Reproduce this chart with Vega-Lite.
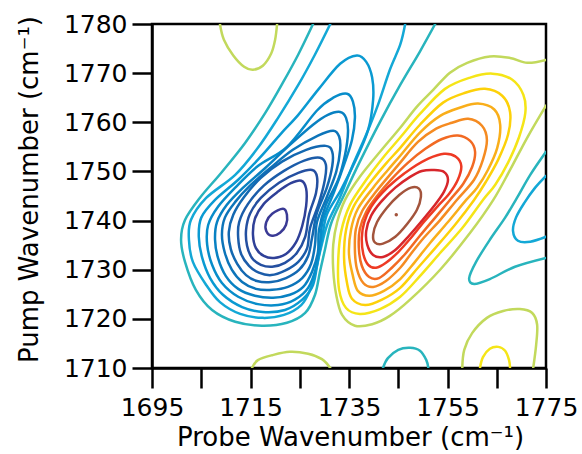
{
  "$schema": "https://vega.github.io/schema/vega-lite/v6.json",
  "width": 394,
  "height": 344,
  "autosize": {"type": "none"},
  "padding": {"left": 152, "top": 24, "right": 36, "bottom": 86},
  "background": "white",
  "config": {
    "view": {"stroke": "black", "strokeWidth": 2.5},
    "font": "DejaVu Sans",
    "axis": {
      "grid": false,
      "domainColor": "black",
      "domainWidth": 2.5,
      "tickColor": "black",
      "tickWidth": 2.5,
      "tickSize": 20,
      "labelFont": "DejaVu Sans",
      "labelFontSize": 25,
      "labelColor": "black",
      "labelOverlap": false,
      "labelFlush": false,
      "labelBound": false,
      "titleFont": "DejaVu Sans",
      "titleFontSize": 26,
      "titleFontWeight": "normal",
      "titleColor": "black"
    }
  },
  "datasets": {
    "closed": [
      {"c":"n3","l":-3,"x":1736.6,"y":1773.6},{"c":"n3","l":-3,"x":1738.5,"y":1772.3},{"c":"n3","l":-3,"x":1739.7,"y":1769.1},{"c":"n3","l":-3,"x":1739.9,"y":1764.6},{"c":"n3","l":-3,"x":1738.9,"y":1758.5},{"c":"n3","l":-3,"x":1736.4,"y":1752.4},{"c":"n3","l":-3,"x":1733.4,"y":1746.3},{"c":"n3","l":-3,"x":1730.5,"y":1741.2},{"c":"n3","l":-3,"x":1729.5,"y":1736.1},{"c":"n3","l":-3,"x":1728.7,"y":1732.0},{"c":"n3","l":-3,"x":1727.7,"y":1726.9},{"c":"n3","l":-3,"x":1725.5,"y":1723.9},{"c":"n3","l":-3,"x":1722.0,"y":1721.8},{"c":"n3","l":-3,"x":1717.5,"y":1721.4},{"c":"n3","l":-3,"x":1713.3,"y":1722.4},{"c":"n3","l":-3,"x":1709.4,"y":1724.9},{"c":"n3","l":-3,"x":1706.8,"y":1728.3},{"c":"n3","l":-3,"x":1705.2,"y":1732.4},{"c":"n3","l":-3,"x":1704.5,"y":1736.7},{"c":"n3","l":-3,"x":1705.0,"y":1740.6},{"c":"n3","l":-3,"x":1707.8,"y":1744.2},{"c":"n3","l":-3,"x":1712.5,"y":1748.3},{"c":"n3","l":-3,"x":1716.9,"y":1752.8},{"c":"n3","l":-3,"x":1721.2,"y":1757.7},{"c":"n3","l":-3,"x":1724.7,"y":1761.5},{"c":"n3","l":-3,"x":1728.7,"y":1766.6},{"c":"n3","l":-3,"x":1733.2,"y":1771.9},
      {"c":"n4","l":-4,"x":1734.6,"y":1765.8},{"c":"n4","l":-4,"x":1735.8,"y":1764.2},{"c":"n4","l":-4,"x":1736.2,"y":1760.9},{"c":"n4","l":-4,"x":1735.6,"y":1756.4},{"c":"n4","l":-4,"x":1734.0,"y":1751.4},{"c":"n4","l":-4,"x":1732.0,"y":1745.9},{"c":"n4","l":-4,"x":1729.7,"y":1740.1},{"c":"n4","l":-4,"x":1729.1,"y":1735.1},{"c":"n4","l":-4,"x":1728.3,"y":1730.4},{"c":"n4","l":-4,"x":1726.7,"y":1726.3},{"c":"n4","l":-4,"x":1724.0,"y":1723.9},{"c":"n4","l":-4,"x":1720.6,"y":1722.8},{"c":"n4","l":-4,"x":1716.5,"y":1723.0},{"c":"n4","l":-4,"x":1712.5,"y":1724.5},{"c":"n4","l":-4,"x":1709.2,"y":1727.3},{"c":"n4","l":-4,"x":1707.2,"y":1731.0},{"c":"n4","l":-4,"x":1706.2,"y":1735.1},{"c":"n4","l":-4,"x":1706.4,"y":1739.1},{"c":"n4","l":-4,"x":1708.4,"y":1742.8},{"c":"n4","l":-4,"x":1711.9,"y":1746.7},{"c":"n4","l":-4,"x":1716.5,"y":1751.1},{"c":"n4","l":-4,"x":1722.4,"y":1755.0},{"c":"n4","l":-4,"x":1728.5,"y":1762.4},{"c":"n4","l":-4,"x":1731.8,"y":1765.0},
      {"c":"n5","l":-5,"x":1733.2,"y":1762.1},{"c":"n5","l":-5,"x":1734.4,"y":1760.9},{"c":"n5","l":-5,"x":1734.8,"y":1758.1},{"c":"n5","l":-5,"x":1734.2,"y":1753.4},{"c":"n5","l":-5,"x":1732.8,"y":1748.3},{"c":"n5","l":-5,"x":1730.3,"y":1743.2},{"c":"n5","l":-5,"x":1728.9,"y":1738.1},{"c":"n5","l":-5,"x":1728.7,"y":1733.6},{"c":"n5","l":-5,"x":1727.5,"y":1729.6},{"c":"n5","l":-5,"x":1725.7,"y":1726.5},{"c":"n5","l":-5,"x":1723.0,"y":1724.9},{"c":"n5","l":-5,"x":1719.6,"y":1724.3},{"c":"n5","l":-5,"x":1715.9,"y":1724.7},{"c":"n5","l":-5,"x":1712.5,"y":1726.1},{"c":"n5","l":-5,"x":1710.0,"y":1728.7},{"c":"n5","l":-5,"x":1708.4,"y":1732.4},{"c":"n5","l":-5,"x":1707.8,"y":1736.1},{"c":"n5","l":-5,"x":1708.2,"y":1739.7},{"c":"n5","l":-5,"x":1710.2,"y":1743.2},{"c":"n5","l":-5,"x":1713.5,"y":1746.7},{"c":"n5","l":-5,"x":1718.0,"y":1750.7},{"c":"n5","l":-5,"x":1723.0,"y":1755.4},{"c":"n5","l":-5,"x":1727.7,"y":1759.5},{"c":"n5","l":-5,"x":1730.7,"y":1761.5},
      {"c":"n6","l":-6,"x":1731.8,"y":1758.3},{"c":"n6","l":-6,"x":1733.0,"y":1757.1},{"c":"n6","l":-6,"x":1733.2,"y":1754.4},{"c":"n6","l":-6,"x":1732.4,"y":1749.9},{"c":"n6","l":-6,"x":1730.5,"y":1744.8},{"c":"n6","l":-6,"x":1728.5,"y":1739.7},{"c":"n6","l":-6,"x":1728.1,"y":1735.1},{"c":"n6","l":-6,"x":1727.3,"y":1731.2},{"c":"n6","l":-6,"x":1725.5,"y":1728.3},{"c":"n6","l":-6,"x":1722.6,"y":1726.5},{"c":"n6","l":-6,"x":1719.4,"y":1725.9},{"c":"n6","l":-6,"x":1716.1,"y":1726.1},{"c":"n6","l":-6,"x":1713.3,"y":1727.5},{"c":"n6","l":-6,"x":1711.2,"y":1730.0},{"c":"n6","l":-6,"x":1709.8,"y":1733.4},{"c":"n6","l":-6,"x":1709.2,"y":1737.1},{"c":"n6","l":-6,"x":1709.8,"y":1740.6},{"c":"n6","l":-6,"x":1711.9,"y":1743.8},{"c":"n6","l":-6,"x":1714.9,"y":1747.1},{"c":"n6","l":-6,"x":1719.0,"y":1750.7},{"c":"n6","l":-6,"x":1723.6,"y":1754.4},{"c":"n6","l":-6,"x":1728.7,"y":1757.3},
      {"c":"n7","l":-7,"x":1730.3,"y":1755.2},{"c":"n7","l":-7,"x":1731.6,"y":1754.0},{"c":"n7","l":-7,"x":1731.6,"y":1751.1},{"c":"n7","l":-7,"x":1730.5,"y":1746.7},{"c":"n7","l":-7,"x":1728.5,"y":1741.6},{"c":"n7","l":-7,"x":1727.5,"y":1736.5},{"c":"n7","l":-7,"x":1726.7,"y":1732.8},{"c":"n7","l":-7,"x":1724.9,"y":1730.0},{"c":"n7","l":-7,"x":1722.2,"y":1728.3},{"c":"n7","l":-7,"x":1719.2,"y":1727.5},{"c":"n7","l":-7,"x":1716.3,"y":1727.7},{"c":"n7","l":-7,"x":1714.1,"y":1728.9},{"c":"n7","l":-7,"x":1712.3,"y":1731.2},{"c":"n7","l":-7,"x":1711.0,"y":1734.2},{"c":"n7","l":-7,"x":1710.6,"y":1737.7},{"c":"n7","l":-7,"x":1711.5,"y":1741.2},{"c":"n7","l":-7,"x":1713.7,"y":1744.8},{"c":"n7","l":-7,"x":1717.1,"y":1748.7},{"c":"n7","l":-7,"x":1721.4,"y":1752.0},{"c":"n7","l":-7,"x":1726.3,"y":1754.4},
      {"c":"n8","l":-8,"x":1729.1,"y":1752.8},{"c":"n8","l":-8,"x":1730.3,"y":1751.4},{"c":"n8","l":-8,"x":1730.1,"y":1748.3},{"c":"n8","l":-8,"x":1728.9,"y":1743.6},{"c":"n8","l":-8,"x":1727.1,"y":1738.5},{"c":"n8","l":-8,"x":1726.5,"y":1734.4},{"c":"n8","l":-8,"x":1724.7,"y":1731.6},{"c":"n8","l":-8,"x":1722.0,"y":1729.8},{"c":"n8","l":-8,"x":1719.2,"y":1728.9},{"c":"n8","l":-8,"x":1716.7,"y":1729.4},{"c":"n8","l":-8,"x":1714.7,"y":1730.8},{"c":"n8","l":-8,"x":1713.1,"y":1733.2},{"c":"n8","l":-8,"x":1712.5,"y":1736.5},{"c":"n8","l":-8,"x":1712.7,"y":1739.7},{"c":"n8","l":-8,"x":1714.5,"y":1743.4},{"c":"n8","l":-8,"x":1717.7,"y":1747.1},{"c":"n8","l":-8,"x":1721.8,"y":1750.1},{"c":"n8","l":-8,"x":1725.9,"y":1752.2},
      {"c":"n9","l":-9,"x":1727.5,"y":1750.3},{"c":"n9","l":-9,"x":1728.5,"y":1748.9},{"c":"n9","l":-9,"x":1728.3,"y":1745.6},{"c":"n9","l":-9,"x":1726.9,"y":1741.2},{"c":"n9","l":-9,"x":1726.1,"y":1736.7},{"c":"n9","l":-9,"x":1724.4,"y":1733.4},{"c":"n9","l":-9,"x":1722.0,"y":1731.4},{"c":"n9","l":-9,"x":1719.4,"y":1730.6},{"c":"n9","l":-9,"x":1717.1,"y":1731.0},{"c":"n9","l":-9,"x":1715.3,"y":1732.4},{"c":"n9","l":-9,"x":1714.3,"y":1734.9},{"c":"n9","l":-9,"x":1714.1,"y":1738.1},{"c":"n9","l":-9,"x":1714.9,"y":1741.4},{"c":"n9","l":-9,"x":1717.1,"y":1744.6},{"c":"n9","l":-9,"x":1720.8,"y":1747.7},{"c":"n9","l":-9,"x":1724.7,"y":1749.7},
      {"c":"n10","l":-10,"x":1725.3,"y":1748.1},{"c":"n10","l":-10,"x":1726.3,"y":1746.5},{"c":"n10","l":-10,"x":1726.3,"y":1743.0},{"c":"n10","l":-10,"x":1725.5,"y":1738.9},{"c":"n10","l":-10,"x":1724.2,"y":1735.5},{"c":"n10","l":-10,"x":1722.2,"y":1733.2},{"c":"n10","l":-10,"x":1719.8,"y":1732.4},{"c":"n10","l":-10,"x":1717.7,"y":1732.8},{"c":"n10","l":-10,"x":1716.1,"y":1734.4},{"c":"n10","l":-10,"x":1715.5,"y":1737.1},{"c":"n10","l":-10,"x":1715.9,"y":1740.4},{"c":"n10","l":-10,"x":1717.7,"y":1743.4},{"c":"n10","l":-10,"x":1720.6,"y":1745.9},{"c":"n10","l":-10,"x":1723.2,"y":1747.6},
      {"c":"n11","l":-11,"x":1721.6,"y":1742.4},{"c":"n11","l":-11,"x":1722.4,"y":1741.2},{"c":"n11","l":-11,"x":1722.2,"y":1739.1},{"c":"n11","l":-11,"x":1721.0,"y":1737.5},{"c":"n11","l":-11,"x":1719.4,"y":1736.9},{"c":"n11","l":-11,"x":1718.2,"y":1737.9},{"c":"n11","l":-11,"x":1718.2,"y":1739.7},{"c":"n11","l":-11,"x":1719.4,"y":1741.4},
      {"c":"p2","l":2,"x":1759.6,"y":1769.1},{"c":"p2","l":2,"x":1764.1,"y":1769.9},{"c":"p2","l":2,"x":1768.1,"y":1768.7},{"c":"p2","l":2,"x":1770.4,"y":1765.6},{"c":"p2","l":2,"x":1770.8,"y":1761.9},{"c":"p2","l":2,"x":1769.5,"y":1756.9},{"c":"p2","l":2,"x":1767.3,"y":1751.8},{"c":"p2","l":2,"x":1764.7,"y":1747.3},{"c":"p2","l":2,"x":1762.2,"y":1744.2},{"c":"p2","l":2,"x":1758.0,"y":1738.5},{"c":"p2","l":2,"x":1753.5,"y":1733.4},{"c":"p2","l":2,"x":1749.4,"y":1728.7},{"c":"p2","l":2,"x":1745.4,"y":1724.5},{"c":"p2","l":2,"x":1741.3,"y":1722.0},{"c":"p2","l":2,"x":1737.2,"y":1721.0},{"c":"p2","l":2,"x":1734.4,"y":1722.2},{"c":"p2","l":2,"x":1733.0,"y":1725.9},{"c":"p2","l":2,"x":1732.8,"y":1731.6},{"c":"p2","l":2,"x":1733.4,"y":1737.7},{"c":"p2","l":2,"x":1735.2,"y":1743.2},{"c":"p2","l":2,"x":1738.5,"y":1748.3},{"c":"p2","l":2,"x":1741.9,"y":1752.8},{"c":"p2","l":2,"x":1745.4,"y":1756.9},{"c":"p2","l":2,"x":1749.4,"y":1761.7},{"c":"p2","l":2,"x":1754.5,"y":1766.8},
      {"c":"p3","l":3,"x":1758.6,"y":1766.0},{"c":"p3","l":3,"x":1762.6,"y":1766.8},{"c":"p3","l":3,"x":1766.1,"y":1765.4},{"c":"p3","l":3,"x":1767.7,"y":1762.1},{"c":"p3","l":3,"x":1767.3,"y":1757.5},{"c":"p3","l":3,"x":1765.3,"y":1752.4},{"c":"p3","l":3,"x":1762.8,"y":1747.9},{"c":"p3","l":3,"x":1760.4,"y":1744.2},{"c":"p3","l":3,"x":1756.5,"y":1739.1},{"c":"p3","l":3,"x":1752.5,"y":1734.4},{"c":"p3","l":3,"x":1749.0,"y":1730.4},{"c":"p3","l":3,"x":1745.4,"y":1726.3},{"c":"p3","l":3,"x":1741.7,"y":1723.9},{"c":"p3","l":3,"x":1738.3,"y":1722.8},{"c":"p3","l":3,"x":1735.6,"y":1724.1},{"c":"p3","l":3,"x":1734.6,"y":1727.3},{"c":"p3","l":3,"x":1734.0,"y":1732.4},{"c":"p3","l":3,"x":1734.4,"y":1738.1},{"c":"p3","l":3,"x":1736.0,"y":1743.0},{"c":"p3","l":3,"x":1739.3,"y":1747.7},{"c":"p3","l":3,"x":1742.5,"y":1751.6},{"c":"p3","l":3,"x":1745.4,"y":1754.8},{"c":"p3","l":3,"x":1749.4,"y":1759.5},{"c":"p3","l":3,"x":1754.1,"y":1764.0},
      {"c":"p4","l":4,"x":1757.6,"y":1763.0},{"c":"p4","l":4,"x":1761.2,"y":1763.8},{"c":"p4","l":4,"x":1764.5,"y":1762.6},{"c":"p4","l":4,"x":1765.7,"y":1759.5},{"c":"p4","l":4,"x":1765.1,"y":1754.8},{"c":"p4","l":4,"x":1763.2,"y":1750.3},{"c":"p4","l":4,"x":1761.0,"y":1746.7},{"c":"p4","l":4,"x":1758.8,"y":1744.2},{"c":"p4","l":4,"x":1755.1,"y":1739.7},{"c":"p4","l":4,"x":1751.5,"y":1735.5},{"c":"p4","l":4,"x":1748.4,"y":1731.6},{"c":"p4","l":4,"x":1745.4,"y":1728.1},{"c":"p4","l":4,"x":1742.1,"y":1725.7},{"c":"p4","l":4,"x":1739.1,"y":1724.7},{"c":"p4","l":4,"x":1736.8,"y":1725.7},{"c":"p4","l":4,"x":1735.8,"y":1728.7},{"c":"p4","l":4,"x":1735.0,"y":1733.2},{"c":"p4","l":4,"x":1735.4,"y":1738.1},{"c":"p4","l":4,"x":1736.8,"y":1742.4},{"c":"p4","l":4,"x":1739.9,"y":1746.7},{"c":"p4","l":4,"x":1742.9,"y":1750.3},{"c":"p4","l":4,"x":1745.4,"y":1753.2},{"c":"p4","l":4,"x":1749.4,"y":1757.9},{"c":"p4","l":4,"x":1753.5,"y":1761.3},
      {"c":"p5","l":5,"x":1755.9,"y":1759.9},{"c":"p5","l":5,"x":1759.2,"y":1760.7},{"c":"p5","l":5,"x":1762.0,"y":1759.3},{"c":"p5","l":5,"x":1763.0,"y":1756.4},{"c":"p5","l":5,"x":1762.2,"y":1752.4},{"c":"p5","l":5,"x":1760.4,"y":1748.3},{"c":"p5","l":5,"x":1756.9,"y":1744.2},{"c":"p5","l":5,"x":1753.5,"y":1740.1},{"c":"p5","l":5,"x":1750.2,"y":1736.5},{"c":"p5","l":5,"x":1747.4,"y":1733.0},{"c":"p5","l":5,"x":1745.4,"y":1730.4},{"c":"p5","l":5,"x":1742.5,"y":1727.7},{"c":"p5","l":5,"x":1739.9,"y":1726.5},{"c":"p5","l":5,"x":1737.9,"y":1727.3},{"c":"p5","l":5,"x":1736.6,"y":1730.2},{"c":"p5","l":5,"x":1736.2,"y":1734.0},{"c":"p5","l":5,"x":1736.4,"y":1738.3},{"c":"p5","l":5,"x":1737.7,"y":1742.0},{"c":"p5","l":5,"x":1740.5,"y":1745.9},{"c":"p5","l":5,"x":1743.3,"y":1749.3},{"c":"p5","l":5,"x":1745.4,"y":1751.8},{"c":"p5","l":5,"x":1749.0,"y":1756.0},{"c":"p5","l":5,"x":1752.7,"y":1758.7},
      {"c":"p6","l":6,"x":1757.1,"y":1757.3},{"c":"p6","l":6,"x":1759.6,"y":1756.2},{"c":"p6","l":6,"x":1760.6,"y":1754.0},{"c":"p6","l":6,"x":1760.0,"y":1750.9},{"c":"p6","l":6,"x":1758.2,"y":1747.5},{"c":"p6","l":6,"x":1755.5,"y":1744.2},{"c":"p6","l":6,"x":1752.5,"y":1740.6},{"c":"p6","l":6,"x":1749.4,"y":1736.9},{"c":"p6","l":6,"x":1746.4,"y":1733.2},{"c":"p6","l":6,"x":1743.7,"y":1730.4},{"c":"p6","l":6,"x":1741.1,"y":1728.3},{"c":"p6","l":6,"x":1739.1,"y":1728.5},{"c":"p6","l":6,"x":1737.6,"y":1730.8},{"c":"p6","l":6,"x":1737.0,"y":1734.4},{"c":"p6","l":6,"x":1737.2,"y":1738.3},{"c":"p6","l":6,"x":1738.5,"y":1741.8},{"c":"p6","l":6,"x":1740.7,"y":1745.0},{"c":"p6","l":6,"x":1743.5,"y":1748.3},{"c":"p6","l":6,"x":1747.0,"y":1751.8},{"c":"p6","l":6,"x":1750.5,"y":1754.6},{"c":"p6","l":6,"x":1753.9,"y":1756.6},
      {"c":"p7","l":7,"x":1754.3,"y":1753.6},{"c":"p7","l":7,"x":1756.7,"y":1753.0},{"c":"p7","l":7,"x":1757.8,"y":1751.1},{"c":"p7","l":7,"x":1757.1,"y":1748.3},{"c":"p7","l":7,"x":1755.3,"y":1745.4},{"c":"p7","l":7,"x":1752.9,"y":1742.8},{"c":"p7","l":7,"x":1750.2,"y":1739.7},{"c":"p7","l":7,"x":1747.6,"y":1736.5},{"c":"p7","l":7,"x":1745.0,"y":1733.6},{"c":"p7","l":7,"x":1742.5,"y":1731.4},{"c":"p7","l":7,"x":1740.5,"y":1730.4},{"c":"p7","l":7,"x":1738.9,"y":1731.0},{"c":"p7","l":7,"x":1737.9,"y":1733.2},{"c":"p7","l":7,"x":1737.6,"y":1736.5},{"c":"p7","l":7,"x":1738.1,"y":1739.7},{"c":"p7","l":7,"x":1739.5,"y":1742.8},{"c":"p7","l":7,"x":1741.7,"y":1745.6},{"c":"p7","l":7,"x":1744.6,"y":1748.3},{"c":"p7","l":7,"x":1747.8,"y":1750.7},{"c":"p7","l":7,"x":1751.1,"y":1752.6},
      {"c":"p8","l":8,"x":1752.3,"y":1750.3},{"c":"p8","l":8,"x":1754.3,"y":1749.9},{"c":"p8","l":8,"x":1755.1,"y":1748.3},{"c":"p8","l":8,"x":1754.3,"y":1745.9},{"c":"p8","l":8,"x":1752.3,"y":1743.0},{"c":"p8","l":8,"x":1749.6,"y":1739.7},{"c":"p8","l":8,"x":1747.0,"y":1736.7},{"c":"p8","l":8,"x":1744.4,"y":1734.0},{"c":"p8","l":8,"x":1741.9,"y":1732.6},{"c":"p8","l":8,"x":1739.9,"y":1733.0},{"c":"p8","l":8,"x":1738.7,"y":1735.1},{"c":"p8","l":8,"x":1738.5,"y":1737.9},{"c":"p8","l":8,"x":1739.5,"y":1741.0},{"c":"p8","l":8,"x":1741.5,"y":1743.8},{"c":"p8","l":8,"x":1744.4,"y":1746.7},{"c":"p8","l":8,"x":1747.4,"y":1748.9},{"c":"p8","l":8,"x":1749.8,"y":1750.1},
      {"c":"p9","l":9,"x":1749.2,"y":1746.5},{"c":"p9","l":9,"x":1749.6,"y":1744.8},{"c":"p9","l":9,"x":1748.8,"y":1742.2},{"c":"p9","l":9,"x":1746.8,"y":1739.3},{"c":"p9","l":9,"x":1744.4,"y":1736.7},{"c":"p9","l":9,"x":1741.9,"y":1735.3},{"c":"p9","l":9,"x":1740.3,"y":1735.5},{"c":"p9","l":9,"x":1739.9,"y":1737.1},{"c":"p9","l":9,"x":1740.7,"y":1739.7},{"c":"p9","l":9,"x":1742.7,"y":1742.6},{"c":"p9","l":9,"x":1745.2,"y":1745.2},{"c":"p9","l":9,"x":1747.6,"y":1746.7},
      {"c":"p10","l":10,"x":1744.5,"y":1741.2},{"c":"p10","l":10,"x":1744.6,"y":1741.3},{"c":"p10","l":10,"x":1744.7,"y":1741.2},{"c":"p10","l":10,"x":1744.6,"y":1741.1}
    ],
    "open": [
      {"c":"n1","l":-1,"x":1727.7,"y":1780.0},{"c":"n1","l":-1,"x":1724.7,"y":1773.8},{"c":"n1","l":-1,"x":1721.6,"y":1768.1},{"c":"n1","l":-1,"x":1718.0,"y":1761.9},{"c":"n1","l":-1,"x":1713.9,"y":1755.8},{"c":"n1","l":-1,"x":1709.2,"y":1749.9},{"c":"n1","l":-1,"x":1704.7,"y":1744.6},{"c":"n1","l":-1,"x":1701.7,"y":1740.1},{"c":"n1","l":-1,"x":1700.9,"y":1736.1},{"c":"n1","l":-1,"x":1701.7,"y":1731.6},{"c":"n1","l":-1,"x":1703.9,"y":1725.9},{"c":"n1","l":-1,"x":1707.2,"y":1721.8},{"c":"n1","l":-1,"x":1711.9,"y":1719.4},{"c":"n1","l":-1,"x":1717.3,"y":1718.6},{"c":"n1","l":-1,"x":1722.4,"y":1719.2},{"c":"n1","l":-1,"x":1726.1,"y":1721.2},{"c":"n1","l":-1,"x":1728.1,"y":1724.9},{"c":"n1","l":-1,"x":1729.1,"y":1729.6},{"c":"n1","l":-1,"x":1730.1,"y":1734.0},{"c":"n1","l":-1,"x":1731.4,"y":1739.5},{"c":"n1","l":-1,"x":1734.0,"y":1745.2},{"c":"n1","l":-1,"x":1737.2,"y":1752.0},{"c":"n1","l":-1,"x":1741.3,"y":1760.1},{"c":"n1","l":-1,"x":1745.4,"y":1767.6},{"c":"n1","l":-1,"x":1749.4,"y":1774.4},{"c":"n1","l":-1,"x":1752.5,"y":1780.0},
      {"c":"n2","l":-2,"x":1731.2,"y":1780.0},{"c":"n2","l":-2,"x":1728.1,"y":1773.8},{"c":"n2","l":-2,"x":1724.7,"y":1767.6},{"c":"n2","l":-2,"x":1720.6,"y":1760.9},{"c":"n2","l":-2,"x":1716.5,"y":1754.8},{"c":"n2","l":-2,"x":1711.9,"y":1749.3},{"c":"n2","l":-2,"x":1706.0,"y":1744.6},{"c":"n2","l":-2,"x":1702.9,"y":1740.1},{"c":"n2","l":-2,"x":1702.5,"y":1736.1},{"c":"n2","l":-2,"x":1703.3,"y":1731.6},{"c":"n2","l":-2,"x":1706.0,"y":1726.9},{"c":"n2","l":-2,"x":1708.8,"y":1723.4},{"c":"n2","l":-2,"x":1712.9,"y":1721.0},{"c":"n2","l":-2,"x":1717.5,"y":1720.2},{"c":"n2","l":-2,"x":1721.8,"y":1720.8},{"c":"n2","l":-2,"x":1725.3,"y":1722.8},{"c":"n2","l":-2,"x":1727.1,"y":1725.9},{"c":"n2","l":-2,"x":1728.3,"y":1730.0},{"c":"n2","l":-2,"x":1729.3,"y":1734.4},{"c":"n2","l":-2,"x":1730.7,"y":1739.5},{"c":"n2","l":-2,"x":1733.2,"y":1744.8},{"c":"n2","l":-2,"x":1735.6,"y":1750.9},{"c":"n2","l":-2,"x":1738.5,"y":1757.5},{"c":"n2","l":-2,"x":1740.9,"y":1763.6},{"c":"n2","l":-2,"x":1743.3,"y":1770.7},{"c":"n2","l":-2,"x":1745.4,"y":1775.8},{"c":"n2","l":-2,"x":1746.4,"y":1780.0},
      {"c":"p1","l":1,"x":1775.0,"y":1772.7},{"c":"p1","l":1,"x":1771.2,"y":1772.1},{"c":"p1","l":1,"x":1767.7,"y":1773.1},{"c":"p1","l":1,"x":1763.6,"y":1773.4},{"c":"p1","l":1,"x":1759.0,"y":1772.1},{"c":"p1","l":1,"x":1755.5,"y":1770.1},{"c":"p1","l":1,"x":1752.1,"y":1766.6},{"c":"p1","l":1,"x":1748.8,"y":1763.2},{"c":"p1","l":1,"x":1745.4,"y":1758.9},{"c":"p1","l":1,"x":1741.3,"y":1754.0},{"c":"p1","l":1,"x":1737.2,"y":1748.9},{"c":"p1","l":1,"x":1734.2,"y":1744.2},{"c":"p1","l":1,"x":1732.6,"y":1739.7},{"c":"p1","l":1,"x":1731.8,"y":1735.1},{"c":"p1","l":1,"x":1731.8,"y":1730.0},{"c":"p1","l":1,"x":1732.4,"y":1724.9},{"c":"p1","l":1,"x":1733.6,"y":1720.8},{"c":"p1","l":1,"x":1736.2,"y":1718.6},{"c":"p1","l":1,"x":1739.7,"y":1718.9},{"c":"p1","l":1,"x":1743.3,"y":1720.6},{"c":"p1","l":1,"x":1747.4,"y":1723.9},{"c":"p1","l":1,"x":1753.5,"y":1730.0},{"c":"p1","l":1,"x":1759.6,"y":1737.5},{"c":"p1","l":1,"x":1764.3,"y":1744.2},{"c":"p1","l":1,"x":1767.7,"y":1750.3},{"c":"p1","l":1,"x":1771.2,"y":1756.9},{"c":"p1","l":1,"x":1775.0,"y":1763.4},
      {"c":"p1b","l":1,"x":1708.8,"y":1780.0},{"c":"p1b","l":1,"x":1709.6,"y":1776.8},{"c":"p1b","l":1,"x":1711.5,"y":1773.6},{"c":"p1b","l":1,"x":1713.7,"y":1771.3},{"c":"p1b","l":1,"x":1715.5,"y":1770.7},{"c":"p1b","l":1,"x":1717.5,"y":1771.5},{"c":"p1b","l":1,"x":1719.2,"y":1774.0},{"c":"p1b","l":1,"x":1720.0,"y":1776.8},{"c":"p1b","l":1,"x":1720.4,"y":1780.0},
      {"c":"p1c","l":1,"x":1715.3,"y":1710.0},{"c":"p1c","l":1,"x":1716.5,"y":1711.6},{"c":"p1c","l":1,"x":1719.4,"y":1712.6},{"c":"p1c","l":1,"x":1723.0,"y":1713.3},{"c":"p1c","l":1,"x":1726.7,"y":1712.9},{"c":"p1c","l":1,"x":1729.5,"y":1711.8},{"c":"p1c","l":1,"x":1731.2,"y":1710.0},
      {"c":"n1c","l":-1,"x":1741.9,"y":1710.0},{"c":"n1c","l":-1,"x":1742.9,"y":1712.0},{"c":"n1c","l":-1,"x":1745.0,"y":1713.7},{"c":"n1c","l":-1,"x":1747.4,"y":1714.1},{"c":"n1c","l":-1,"x":1749.4,"y":1713.5},{"c":"n1c","l":-1,"x":1750.7,"y":1711.6},{"c":"n1c","l":-1,"x":1751.1,"y":1710.0},
      {"c":"p1d","l":1,"x":1758.0,"y":1710.0},{"c":"p1d","l":1,"x":1758.4,"y":1713.7},{"c":"p1d","l":1,"x":1760.0,"y":1717.1},{"c":"p1d","l":1,"x":1763.0,"y":1720.2},{"c":"p1d","l":1,"x":1766.3,"y":1721.6},{"c":"p1d","l":1,"x":1769.7,"y":1722.0},{"c":"p1d","l":1,"x":1772.2,"y":1721.2},{"c":"p1d","l":1,"x":1773.2,"y":1718.8},{"c":"p1d","l":1,"x":1773.0,"y":1714.7},{"c":"p1d","l":1,"x":1772.4,"y":1710.0},
      {"c":"p2b","l":2,"x":1761.6,"y":1710.0},{"c":"p2b","l":2,"x":1762.2,"y":1712.2},{"c":"p2b","l":2,"x":1763.6,"y":1713.9},{"c":"p2b","l":2,"x":1765.3,"y":1714.3},{"c":"p2b","l":2,"x":1766.7,"y":1713.5},{"c":"p2b","l":2,"x":1767.5,"y":1711.6},{"c":"p2b","l":2,"x":1767.7,"y":1710.0},
      {"c":"n1r","l":-1,"x":1775.0,"y":1754.0},{"c":"n1r","l":-1,"x":1771.8,"y":1749.3},{"c":"n1r","l":-1,"x":1769.1,"y":1744.6},{"c":"n1r","l":-1,"x":1766.7,"y":1740.6},{"c":"n1r","l":-1,"x":1763.6,"y":1736.1},{"c":"n1r","l":-1,"x":1760.8,"y":1731.6},{"c":"n1r","l":-1,"x":1759.4,"y":1728.3},{"c":"n1r","l":-1,"x":1760.4,"y":1727.1},{"c":"n1r","l":-1,"x":1763.6,"y":1728.1},{"c":"n1r","l":-1,"x":1768.7,"y":1730.6},{"c":"n1r","l":-1,"x":1775.0,"y":1732.4},
      {"c":"n2r","l":-2,"x":1775.0,"y":1749.1},{"c":"n2r","l":-2,"x":1772.8,"y":1746.7},{"c":"n2r","l":-2,"x":1770.6,"y":1743.6},{"c":"n2r","l":-2,"x":1768.9,"y":1740.6},{"c":"n2r","l":-2,"x":1768.3,"y":1737.9},{"c":"n2r","l":-2,"x":1769.3,"y":1735.9},{"c":"n2r","l":-2,"x":1771.8,"y":1735.7},{"c":"n2r","l":-2,"x":1775.0,"y":1736.7}
    ]
  },
  "encoding": {
    "x": {
      "field": "x",
      "type": "quantitative",
      "scale": {"domain": [1695, 1775], "nice": false, "zero": false},
      "axis": {
        "values": [1695, 1705, 1715, 1725, 1735, 1745, 1755, 1765, 1775],
        "format": "d",
        "labelExpr": "(datum.value - 1695) % 20 == 0 ? datum.label : ''",
        "tickSize": 20,
        "labelBaseline": "alphabetic",
        "labelPadding": 27,
        "titleX": 198,
        "titleY": 77,
        "titleBaseline": "alphabetic",
        "titleAlign": "center",
        "title": "Probe Wavenumber (cm⁻¹)"
      }
    },
    "y": {
      "field": "y",
      "type": "quantitative",
      "scale": {"domain": [1710, 1780], "nice": false, "zero": false},
      "axis": {
        "values": [1710, 1720, 1730, 1740, 1750, 1760, 1770, 1780],
        "format": "d",
        "tickSize": 20,
        "labelPadding": 5,
        "titleX": -123,
        "titleY": 165,
        "titleAngle": -90,
        "titleAlign": "center",
        "titleBaseline": "middle",
        "title": "Pump Wavenumber (cm⁻¹)"
      }
    },
    "color": {
      "field": "l",
      "type": "ordinal",
      "legend": null,
      "scale": {
        "domain": [-11, -10, -9, -8, -7, -6, -5, -4, -3, -2, -1, 1, 2, 3, 4, 5, 6, 7, 8, 9, 10],
        "range": ["#3a3a95", "#2f4098", "#244fa0", "#1b5ca9", "#1368b1", "#0c74b9", "#0881c2", "#078dca", "#0a9ad2", "#13a8d6", "#28b4bd", "#c2d95c", "#f5e517", "#fdd109", "#f9ae1a", "#f58b21", "#f26a23", "#ee3a24", "#d7262b", "#a3543c", "#a3543c"]
      }
    },
    "detail": {"field": "c"}
  },
  "layer": [
    {
      "data": {"name": "open"},
      "transform": [{"window": [{"op": "row_number", "as": "i"}]}],
      "mark": {"type": "line", "interpolate": "cardinal", "clip": true, "strokeWidth": 2.5, "strokeCap": "round", "strokeJoin": "round"},
      "encoding": {"order": {"field": "i", "type": "quantitative"}}
    },
    {
      "data": {"name": "closed"},
      "transform": [{"window": [{"op": "row_number", "as": "i"}]}],
      "mark": {"type": "line", "interpolate": "cardinal-closed", "clip": true, "strokeWidth": 2.5, "strokeCap": "round", "strokeJoin": "round"},
      "encoding": {"order": {"field": "i", "type": "quantitative"}}
    }
  ]
}
